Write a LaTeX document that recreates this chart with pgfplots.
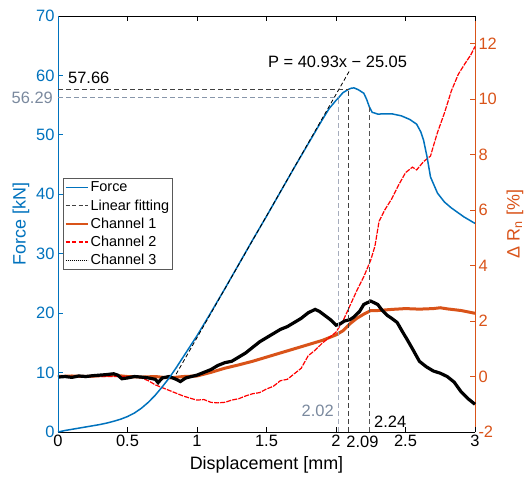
\documentclass[border=0pt]{standalone}
\usepackage{fontspec}
\setmainfont{Liberation Sans}
\usepackage{pgfplots}
\pgfplotsset{compat=1.18}
\definecolor{fblue}{RGB}{0,114,189}
\definecolor{corange}{RGB}{217,83,25}
\definecolor{greytxt}{RGB}{122,137,158}
\definecolor{greyline}{RGB}{135,150,170}
\definecolor{greyvline}{RGB}{165,172,188}
\definecolor{dkgrey}{RGB}{64,64,64}
\pgfplotsset{
  common/.style={
    width=417bp, height=416bp, scale only axis,
    xmin=0, xmax=3, clip=false,
    tick align=inside, major tick length=5bp,
    axis line style={line width=0.8bp},
    every tick/.style={line width=0.8bp},
    /pgf/number format/assume math mode=true,
    tick label style={font=\fontsize{16.5}{19}\selectfont},
    label style={font=\fontsize{18}{21}\selectfont},
  }
}
\begin{document}
\begin{tikzpicture}
% ---------- right axis: channels ----------
\begin{axis}[common, name=ax1,
  axis y line*=right, axis x line=none,
  ymin=-2, ymax=13, ytick={-2,0,2,4,6,8,10,12},
  y axis line style={draw=corange},
  ytick style={draw=corange},
  yticklabel style={color=corange},
  ylabel={Δ R\textsubscript{n} [\%]},
  ylabel style={color=corange, yshift=-3bp},
]
% Channel 1
\addplot[corange, line width=3bp] coordinates {
(0,0) (0.1,0.02) (0.2,0.0) (0.3,0.03) (0.4,0.05) (0.5,0.0) (0.6,-0.02) (0.7,0.0)
(0.8,-0.05) (0.9,0.0) (1.0,0.02) (1.1,0.15) (1.2,0.3) (1.3,0.42) (1.4,0.55)
(1.5,0.7) (1.6,0.85) (1.7,1.0) (1.8,1.15) (1.9,1.3) (2.0,1.5) (2.05,1.65)
(2.1,1.9) (2.15,2.1) (2.2,2.25) (2.25,2.38) (2.3,2.38) (2.4,2.42) (2.5,2.45)
(2.6,2.43) (2.7,2.45) (2.75,2.48) (2.8,2.44) (2.9,2.38) (3.0,2.28)};
% Channel 2
\addplot[red, line width=1.2bp, dash pattern=on 5bp off 1.2bp] coordinates {
(0,0) (0.3,0.0) (0.55,0.0) (0.6,-0.05) (0.65,-0.15) (0.7,-0.3) (0.75,-0.4)
(0.8,-0.5) (0.85,-0.6) (0.9,-0.7) (0.95,-0.78) (1.0,-0.85) (1.05,-0.83)
(1.1,-0.93) (1.15,-0.95) (1.2,-0.93) (1.25,-0.85) (1.3,-0.8) (1.35,-0.7)
(1.4,-0.62) (1.45,-0.58) (1.5,-0.45) (1.55,-0.35) (1.6,-0.15) (1.65,-0.1)
(1.7,0.1) (1.75,0.3) (1.8,0.75) (1.85,0.95) (1.9,1.2) (1.95,1.4) (2.0,1.6)
(2.05,2.0) (2.1,2.55) (2.15,3.1) (2.2,3.6) (2.25,4.2) (2.28,4.7) (2.31,5.6)
(2.35,6.0) (2.4,6.4) (2.45,6.9) (2.5,7.35) (2.55,7.55) (2.58,7.45) (2.63,7.75)
(2.68,7.95) (2.7,8.3) (2.73,8.8) (2.78,9.5) (2.83,10.3) (2.88,10.9) (2.93,11.3)
(2.97,11.6) (3.0,11.9)};
% Channel 3
\addplot[black, line width=3.2bp] coordinates {
(0,-0.02) (0.05,0.0) (0.1,-0.03) (0.15,0.02) (0.2,0.0) (0.25,0.03) (0.3,0.05)
(0.35,0.07) (0.4,0.1) (0.43,0.05) (0.46,-0.08) (0.5,-0.05) (0.55,0.0) (0.6,-0.02)
(0.65,-0.05) (0.7,-0.1) (0.72,-0.22) (0.75,-0.05) (0.8,0.0) (0.85,-0.1)
(0.88,-0.18) (0.92,-0.05) (0.96,0.0) (1.0,0.05) (1.05,0.15) (1.1,0.25)
(1.15,0.4) (1.2,0.5) (1.25,0.55) (1.3,0.7) (1.35,0.85) (1.4,1.05) (1.45,1.25)
(1.5,1.4) (1.55,1.55) (1.6,1.7) (1.65,1.8) (1.7,1.95) (1.75,2.1) (1.8,2.3)
(1.85,2.42) (1.88,2.35) (1.92,2.2) (1.96,2.05) (2.0,1.85) (2.03,1.9) (2.06,2.0)
(2.1,2.05) (2.13,2.15) (2.17,2.35) (2.2,2.6) (2.25,2.72) (2.3,2.6) (2.33,2.4)
(2.37,2.2) (2.4,2.1) (2.44,1.95) (2.48,1.6) (2.51,1.35) (2.55,1.0) (2.6,0.55)
(2.65,0.35) (2.7,0.2) (2.75,0.12) (2.8,0.0) (2.85,-0.2) (2.9,-0.55) (2.95,-0.8)
(3.0,-1.0)};
\end{axis}
% ---------- left axis: force ----------
\begin{axis}[common, name=ax2,
  axis y line*=left, axis x line*=box,
  ymin=0, ymax=70, ytick={0,10,...,70},
  xtick={0,0.5,1,1.5,2,2.5,3},
  y axis line style={draw=fblue},
  ytick style={draw=fblue},
  yticklabel style={color=fblue},
  ylabel={Force [kN]},
  ylabel style={color=fblue},
  xlabel={Displacement [mm]},
  xlabel style={yshift=-3bp},
  legend image code/.code={\draw[#1] (0bp,0bp) -- (22bp,0bp);},
  legend style={at={(0.012,0.61)}, anchor=north west, draw=black!65,
    line width=0.6bp, font=\fontsize{14.5}{16}\selectfont,
    cells={anchor=west}, inner xsep=1.5bp, inner ysep=1.5bp, row sep=2.2bp},
]
\addlegendimage{fblue, line width=1.5bp}
\addlegendentry{Force}
\addlegendimage{dkgrey, line width=0.8bp, dash pattern=on 4bp off 2.5bp}
\addlegendentry{Linear fitting}
\addlegendimage{corange, line width=1.8bp}
\addlegendentry{Channel 1}
\addlegendimage{red, line width=1.2bp, dash pattern=on 4bp off 2.5bp}
\addlegendentry{Channel 2}
\addlegendimage{black, line width=0.8bp, dash pattern=on 1bp off 1bp}
\addlegendentry{Channel 3}
% Force
\addplot[forget plot, fblue, line width=1.5bp] coordinates {
(0,0) (0.05,0.25) (0.1,0.45) (0.15,0.65) (0.2,0.85) (0.25,1.05) (0.3,1.25)
(0.35,1.5) (0.4,1.8) (0.45,2.15) (0.5,2.6) (0.55,3.2) (0.6,4.0) (0.65,5.0)
(0.7,6.2) (0.75,7.6) (0.8,9.1) (0.85,10.8) (0.9,12.6) (0.95,14.4) (1.0,16.2)
(1.1,20.1) (1.2,24.1) (1.3,28.2) (1.4,32.3) (1.5,36.3) (1.6,40.4) (1.7,44.5)
(1.8,48.5) (1.85,50.5) (1.9,52.5) (1.95,54.4) (2.0,55.8) (2.02,56.29)
(2.05,57.1) (2.09,57.66) (2.11,57.85) (2.13,57.9) (2.16,57.6) (2.2,57.0)
(2.22,56.0) (2.24,54.7) (2.26,53.8) (2.3,53.5) (2.4,53.55) (2.47,53.2)
(2.53,52.6) (2.58,51.8) (2.61,50.5) (2.63,49.1) (2.655,46.3) (2.68,42.9)
(2.73,40.2) (2.78,38.7) (2.83,37.7) (2.92,36.2) (3.0,35.1)};
% Linear fitting
\addplot[forget plot, black, line width=0.8bp, dash pattern=on 4bp off 2.5bp]
  coordinates {(0.85,9.74) (2.1,60.90)};
% guide lines
\addplot[forget plot, dkgrey, line width=1bp, dash pattern=on 5bp off 3bp]
  coordinates {(0,57.66) (2.09,57.66)};
\addplot[forget plot, greyline, line width=1bp, dash pattern=on 5bp off 3bp]
  coordinates {(0,56.29) (2.02,56.29)};
\addplot[forget plot, greyvline, line width=1bp, dash pattern=on 5bp off 3bp]
  coordinates {(2.02,0) (2.02,56.29)};
\addplot[forget plot, dkgrey, line width=1bp, dash pattern=on 5bp off 3bp]
  coordinates {(2.09,0) (2.09,57.66)};
\addplot[forget plot, dkgrey!90, line width=1bp, dash pattern=on 5bp off 3bp]
  coordinates {(2.24,0) (2.24,54.7)};
% annotations
\node[anchor=west, font=\fontsize{16.5}{19}\selectfont, inner sep=0pt]
  at (axis cs:0.072,59.6) {57.66};
\node[anchor=east, font=\fontsize{16.5}{19}\selectfont, text=greytxt, inner sep=0pt]
  at (axis cs:-0.036,56.29) {56.29};
\node[anchor=west, font=\fontsize{16.5}{19}\selectfont, inner sep=0pt]
  at (axis cs:1.51,62.3) {P = 40.93x − 25.05};
\node[anchor=east, font=\fontsize{16.5}{19}\selectfont, text=greytxt, inner sep=0pt]
  at (axis cs:1.985,3.6) {2.02};
\node[font=\fontsize{16.5}{19}\selectfont, inner sep=0pt]
  at (axis cs:2.19,-1.65) {2.09};
\node[font=\fontsize{16.5}{19}\selectfont, inner sep=0pt]
  at (axis cs:2.39,1.75) {2.24};
\end{axis}
\pgfresetboundingbox
\path[use as bounding box] ([shift={(-58bp,-49bp)}]ax2.south west) rectangle ([shift={(53bp,16bp)}]ax2.north east);
\end{tikzpicture}
\end{document}
